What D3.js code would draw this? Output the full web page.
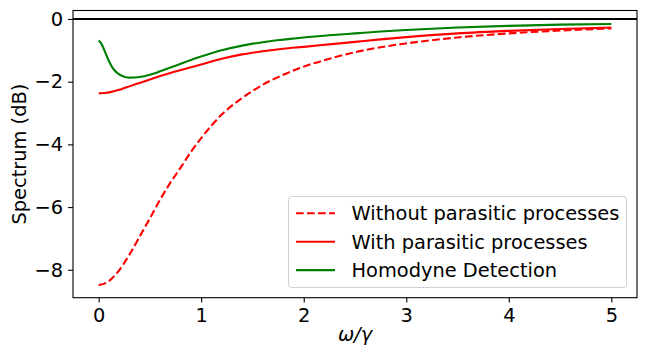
<!DOCTYPE html>
<html lang="en">
<head>
	<meta charset="UTF-8">
	<title>Spectrum</title>
	<script src="https://cdn.jsdelivr.net/npm/d3@7"></script>
	<style>
		body { margin: 0; background: #fff; }
		text { font-family: "DejaVu Sans", sans-serif; }
	</style>
</head>
<body>
	<div id="chart"></div>
<script>
// omega / gamma
var omega = [0, 0.025, 0.05, 0.075, 0.1, 0.125, 0.15, 0.2, 0.25, 0.3, 0.4, 0.5, 0.6, 0.7, 0.8, 0.9,
	1.0, 1.2, 1.4, 1.6, 1.8, 2.0, 2.25, 2.5, 2.75, 3.0, 3.5, 4.0, 4.5, 5.0];

// spectrum in dB
var withoutParasitic = [-8.48, -8.47, -8.45, -8.40, -8.36, -8.29, -8.21, -8.02, -7.78, -7.52, -6.94, -6.36,
	-5.76, -5.22, -4.74, -4.24, -3.80, -3.05, -2.52, -2.10, -1.78, -1.52, -1.27, -1.06, -0.90, -0.78,
	-0.59, -0.46, -0.37, -0.30];
var withParasitic = [-2.37, -2.368, -2.363, -2.354, -2.341, -2.325, -2.305, -2.258, -2.204, -2.15, -2.04, -1.93,
	-1.82, -1.72, -1.63, -1.54, -1.45, -1.27, -1.13, -1.03, -0.95, -0.89, -0.81, -0.73, -0.65, -0.58,
	-0.46, -0.38, -0.32, -0.27];
var homodyne = [-0.69, -0.78, -0.95, -1.15, -1.34, -1.50, -1.62, -1.77, -1.84, -1.87, -1.85, -1.78,
	-1.67, -1.55, -1.43, -1.31, -1.20, -1.00, -0.85, -0.74, -0.66, -0.59, -0.52, -0.46, -0.40, -0.35,
	-0.27, -0.22, -0.18, -0.16];

var xTicks = [0, 1, 2, 3, 4, 5];
var yTicks = [0, -2, -4, -6, -8];

var seriesNames = ["Without parasitic processes", "With parasitic processes", "Homodyne Detection"];
var seriesColors = ["#ff0000", "#ff0000", "#008000"];
var seriesDash = ["7.7,3.3", null, null];

window.onload = function(){
	var W = 647, H = 348;
	var fs = "19.4px";
	var svg = d3.select("#chart").append("svg")
		.attr("width", W)
		.attr("height", H);

	var left = 73, right = 637, top = 10.5, bottom = 297.7;

	var xScale = d3.scaleLinear().domain([-0.25, 5.25]).range([left, right]);
	var yScale = d3.scaleLinear().domain([-8.89, 0.27]).range([bottom, top]);

	var allSeries = [withoutParasitic, withParasitic, homodyne];

	var line = d3.line()
		.x(function(d){ return xScale(d[0]); })
		.y(function(d){ return yScale(d[1]); })
		.curve(d3.curveMonotoneX);

	// clip to the axes box
	svg.append("clipPath").attr("id", "plotclip")
		.append("rect")
		.attr("x", left).attr("y", top)
		.attr("width", right - left).attr("height", bottom - top);

	var plot = svg.append("g").attr("clip-path", "url(#plotclip)");

	// black line at 0 dB
	plot.append("line")
		.attr("x1", left).attr("x2", right)
		.attr("y1", yScale(0)).attr("y2", yScale(0))
		.attr("stroke", "#000")
		.attr("stroke-width", 2.1);

	allSeries.forEach(function(vals, i){
		var pts = omega.map(function(w, j){ return [w, vals[j]]; });
		plot.append("path")
			.datum(pts)
			.attr("d", line)
			.attr("fill", "none")
			.attr("stroke", seriesColors[i])
			.attr("stroke-width", 2.1)
			.attr("stroke-dasharray", seriesDash[i]);
	});

	// axes
	var xAxis = d3.axisBottom(xScale).tickValues(xTicks).tickSize(4.9).tickPadding(5.4)
		.tickFormat(d3.format("d"));
	var yAxis = d3.axisLeft(yScale).tickValues(yTicks).tickSize(4.9).tickPadding(4.9)
		.tickFormat(function(d){ return d < 0 ? "\u2212" + Math.abs(d) : d; });

	var gx = svg.append("g").attr("transform", "translate(0," + bottom + ")").call(xAxis);
	var gy = svg.append("g").attr("transform", "translate(" + left + ",0)").call(yAxis);
	[gx, gy].forEach(function(g){
		g.select(".domain").remove();
		g.selectAll(".tick line").attr("stroke", "#000").attr("stroke-width", 1.1);
		g.selectAll(".tick text")
			.attr("fill", "#000")
			.style("font-family", "DejaVu Sans")
			.style("font-size", fs);
	});

	// frame
	svg.append("rect")
		.attr("x", left).attr("y", top)
		.attr("width", right - left).attr("height", bottom - top)
		.attr("fill", "none")
		.attr("stroke", "#000")
		.attr("stroke-width", 1.1);

	// axis labels
	svg.append("text")
		.attr("x", (left + right) / 2)
		.attr("y", 341)
		.attr("text-anchor", "middle")
		.style("font-size", fs)
		.style("font-style", "italic")
		.text("\u03c9/\u03b3");

	svg.append("text")
		.attr("transform", "translate(26," + (top + bottom) / 2 + ") rotate(-90)")
		.attr("text-anchor", "middle")
		.style("font-size", fs)
		.text("Spectrum (dB)");

	// legend
	var lg = svg.append("g");
	lg.append("rect")
		.attr("x", 288.5).attr("y", 196.5)
		.attr("width", 338).attr("height", 91)
		.attr("rx", 3)
		.attr("fill", "#fff")
		.attr("fill-opacity", 0.8)
		.attr("stroke", "#d0d0d0")
		.attr("stroke-width", 1);

	seriesNames.forEach(function(name, i){
		var cy = 213.3 + i * 28.4;
		lg.append("line")
			.attr("x1", 296).attr("x2", 335)
			.attr("y1", cy).attr("y2", cy)
			.attr("stroke", seriesColors[i])
			.attr("stroke-width", 2.1)
			.attr("stroke-dasharray", seriesDash[i]);
		lg.append("text")
			.attr("x", 351.5)
			.attr("y", cy + 7)
			.style("font-size", fs)
			.attr("fill", "#000")
			.text(name);
	});
};
</script>
</body>
</html>
